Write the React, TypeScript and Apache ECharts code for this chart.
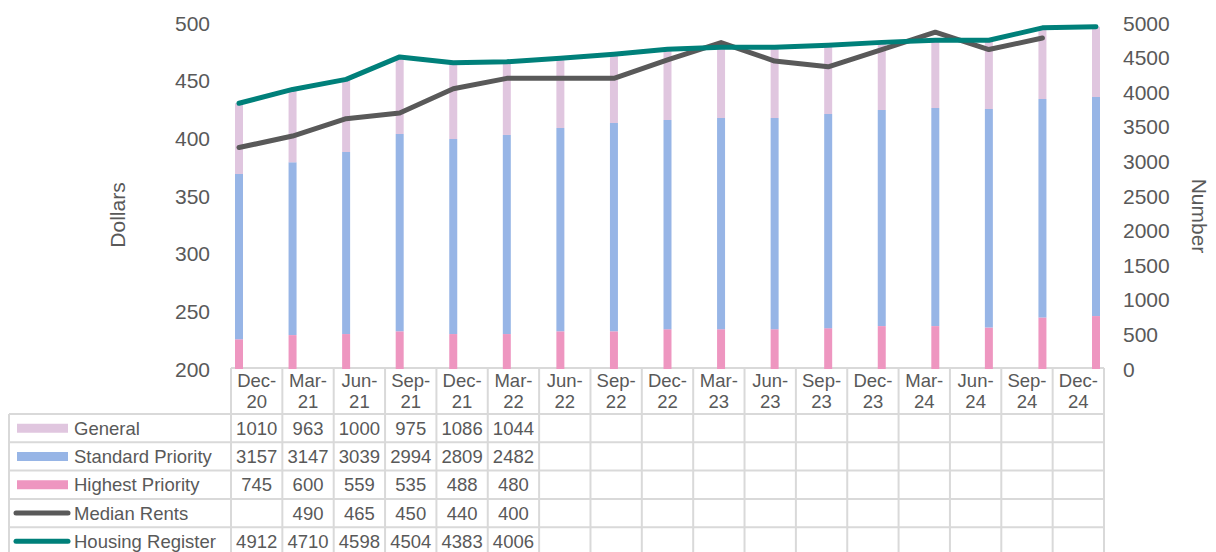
import React, { useEffect, useRef } from "react";
import * as echarts from "echarts";

const categories = [
  "Dec-20", "Mar-21", "Jun-21", "Sep-21", "Dec-21", "Mar-22", "Jun-22", "Sep-22", "Dec-22",
  "Mar-23", "Jun-23", "Sep-23", "Dec-23", "Mar-24", "Jun-24", "Sep-24", "Dec-24",
];
const highestPriority = [430, 490, 505, 545, 505, 505, 545, 545, 575, 575, 575, 590, 620, 620, 600, 745, 765];
const standardPriority = [2388, 2497, 2631, 2851, 2819, 2877, 2938, 3010, 3023, 3052, 3052, 3095, 3123, 3152, 3157, 3157, 3166];
const general = [1022, 1053, 1049, 1114, 1101, 1058, 1007, 995, 1022, 1023, 1023, 995, 977, 978, 993, 1028, 1014];
const medianRents = [392, 402, 417, 422, 443, 452, 452, 452, 468, 483, 467, 462, 477, 492, 477, 487, null];
const housingRegister = [3840, 4040, 4185, 4510, 4425, 4440, 4490, 4550, 4620, 4650, 4650, 4680, 4720, 4750, 4750, 4930, 4945];

// Values printed in the data table under the chart (as shown in the reference)
const tableGeneral = [1010, 963, 1000, 975, 1086, 1044];
const tableStandard = [3157, 3147, 3039, 2994, 2809, 2482];
const tableHighest = [745, 600, 559, 535, 488, 480];
const tableMedian = [null, 490, 465, 450, 440, 400];
const tableHousing = [4912, 4710, 4598, 4504, 4383, 4006];

const dollarAxis = { min: 200, max: 500, interval: 50 };
const numberAxis = { min: 0, max: 5000, interval: 500 };

const COLORS = {
  general: "#E0C6DF",
  standard: "#97B5E6",
  highest: "#EE96C0",
  median: "#595959",
  housing: "#00807A",
  text: "#595959",
  border: "#D9D9D9",
};
const FONT = '"Liberation Sans", Arial, sans-serif';

export default function App() {
  const ref = useRef<HTMLDivElement>(null);

  useEffect(() => {
    document.body.style.margin = "0";
    const chart = echarts.init(ref.current!, undefined, { renderer: "svg" });

    const tableLeft = 9;
    const colStart = 231;
    const tableRight = 1104;
    const colW = (tableRight - colStart) / categories.length;
    const headerTop = 368;
    const headerBottom = 414;
    const rowH = 28.3;
    const tableBottom = 560;
    const tFont = 18.5;

    const rows = [
      { name: "General", key: "rect", color: COLORS.general, values: tableGeneral },
      { name: "Standard Priority", key: "rect", color: COLORS.standard, values: tableStandard },
      { name: "Highest Priority", key: "rect", color: COLORS.highest, values: tableHighest },
      { name: "Median Rents", key: "line", color: COLORS.median, values: tableMedian },
      { name: "Housing Register", key: "line", color: COLORS.housing, values: tableHousing },
    ];

    const graphic: any[] = [];
    const border = { stroke: COLORS.border, lineWidth: 2 };
    graphic.push({ type: "line", silent: true, shape: { x1: colStart, y1: headerTop, x2: tableRight, y2: headerTop }, style: border });
    for (let r = 0; r <= rows.length; r++) {
      const y = headerBottom + r * rowH;
      if (y > 552) break;
      graphic.push({ type: "line", silent: true, shape: { x1: tableLeft, y1: y, x2: tableRight, y2: y }, style: border });
    }
    graphic.push({ type: "line", silent: true, shape: { x1: tableLeft, y1: headerBottom, x2: tableLeft, y2: tableBottom }, style: border });
    for (let c = 0; c <= categories.length; c++) {
      const x = colStart + c * colW;
      graphic.push({ type: "line", silent: true, shape: { x1: x, y1: headerTop, x2: x, y2: tableBottom }, style: border });
    }
    categories.forEach((cat, i) => {
      const cx = colStart + (i + 0.5) * colW;
      const [a, b] = cat.split("-");
      graphic.push({ type: "text", silent: true, x: cx, y: 380, style: { text: a + "-", fill: COLORS.text, fontSize: tFont, fontFamily: FONT, align: "center", verticalAlign: "middle" } });
      graphic.push({ type: "text", silent: true, x: cx, y: 401, style: { text: b, fill: COLORS.text, fontSize: tFont, fontFamily: FONT, align: "center", verticalAlign: "middle" } });
    });
    rows.forEach((row, r) => {
      const cy = headerBottom + (r + 0.5) * rowH;
      if (row.key === "rect") {
        graphic.push({ type: "rect", silent: true, shape: { x: 17, y: cy - 4.5, width: 51, height: 9 }, style: { fill: row.color } });
      } else {
        graphic.push({ type: "line", silent: true, shape: { x1: 16, y1: cy, x2: 68, y2: cy }, style: { stroke: row.color, lineWidth: 5, lineCap: "round" } });
      }
      graphic.push({ type: "text", silent: true, x: 74, y: cy, style: { text: row.name, fill: COLORS.text, fontSize: tFont, fontFamily: FONT, align: "left", verticalAlign: "middle" } });
      row.values.forEach((v, i) => {
        if (v == null) return;
        graphic.push({ type: "text", silent: true, x: colStart + (i + 0.5) * colW, y: cy, style: { text: String(v), fill: COLORS.text, fontSize: tFont, fontFamily: FONT, align: "center", verticalAlign: "middle" } });
      });
    });
    graphic.push({ type: "text", silent: true, x: 117, y: 215, rotation: Math.PI / 2, style: { text: "Dollars", fill: COLORS.text, fontSize: 21, fontFamily: FONT, align: "center", verticalAlign: "middle" } });
    graphic.push({ type: "text", silent: true, x: 1199, y: 216, rotation: -Math.PI / 2, style: { text: "Number", fill: COLORS.text, fontSize: 21, fontFamily: FONT, align: "center", verticalAlign: "middle" } });

    const axisLabel = { color: COLORS.text, fontSize: 21, fontFamily: FONT };

    chart.setOption({
      animation: false,
      grid: { left: 239, right: 120, top: 23, bottom: 183, containLabel: false },
      xAxis: {
        type: "category",
        data: categories,
        boundaryGap: false,
        axisLine: { show: false },
        axisTick: { show: false },
        axisLabel: { show: false },
        splitLine: { show: false },
      },
      yAxis: [
        {
          type: "value",
          ...dollarAxis,
          axisLine: { show: false },
          axisTick: { show: false },
          splitLine: { show: false },
          axisLabel: { ...axisLabel, margin: 29, formatter: (v: number) => String(v) },
        },
        {
          type: "value",
          ...numberAxis,
          position: "right",
          axisLine: { show: false },
          axisTick: { show: false },
          splitLine: { show: false },
          axisLabel: { ...axisLabel, margin: 27, formatter: (v: number) => String(v) },
        },
      ],
      series: [
        { name: "Highest Priority", type: "bar", stack: "n", yAxisIndex: 1, barWidth: 8, data: highestPriority, itemStyle: { color: COLORS.highest } },
        { name: "Standard Priority", type: "bar", stack: "n", yAxisIndex: 1, barWidth: 8, data: standardPriority, itemStyle: { color: COLORS.standard } },
        { name: "General", type: "bar", stack: "n", yAxisIndex: 1, barWidth: 8, data: general, itemStyle: { color: COLORS.general } },
        { name: "Median Rents", type: "line", yAxisIndex: 0, data: medianRents, showSymbol: false, symbol: "none", lineStyle: { color: COLORS.median, width: 5, cap: "round", join: "round" }, itemStyle: { color: COLORS.median } },
        { name: "Housing Register", type: "line", yAxisIndex: 1, data: housingRegister, showSymbol: false, symbol: "none", lineStyle: { color: COLORS.housing, width: 5, cap: "round", join: "round" }, itemStyle: { color: COLORS.housing } },
      ],
      graphic,
    });

    return () => chart.dispose();
  }, []);

  return <div ref={ref} style={{ width: 1216, height: 552 }} />;
}
